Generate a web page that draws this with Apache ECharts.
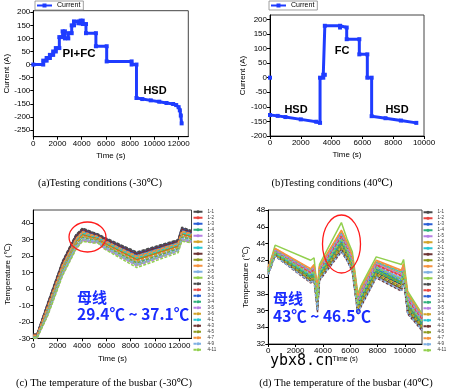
<!DOCTYPE html>
<html><head><meta charset="utf-8">
<script src="https://cdn.jsdelivr.net/npm/echarts@6/dist/echarts.min.js"></script>
<style>html,body{margin:0;padding:0;background:#fff}#c{width:449px;height:389px}</style>
</head><body><div id="c"></div>
<script>
// ---------- (a) current, -30C ----------
const timeA    = [0,820,820,1100,1100,1370,1370,1640,1640,1860,1860,2150,2150,2420,2420,2610,2610,2890,2890,3170,3170,3360,3360,3720,3720,3910,3910,4080,4080,4350,4350,5170,5170,6060,6060,8120,8120,8520,8520,9000,9700,10400,11000,11550,11800,12000,12100,12180,12250];
const currentA = [0,0,15,15,25,25,37,37,50,50,63,63,105,105,127,127,100,100,120,120,150,150,165,165,158,158,168,168,155,155,120,120,70,70,12,12,0,0,-128,-132,-137,-142,-147,-151,-155,-163,-175,-195,-225];
const xTicksA = [0,2000,4000,6000,8000,10000,12000];
const yTicksA = [-250,-200,-150,-100,-50,0,50,100,150,200];

// ---------- (b) current, 40C ----------
const timeB    = [0,0,0,500,1000,2000,3000,3250,3250,3460,3460,3560,3560,4550,4550,4980,4980,5800,5800,6320,6320,6600,6600,7500,8500,9500];
const currentB = [0,null,-128,-131,-135,-143,-151,-155,0,0,10,10,178,178,172,172,132,132,80,80,0,0,-132,-139,-147,-155];
const xTicksB = [0,2000,4000,6000,8000,10000];
const yTicksB = [-200,-150,-100,-50,0,50,100,150,200];

// ---------- sensor names ----------
const sensorNames = ['1-1','1-2','1-3','1-4','1-5','1-6','2-1','2-2','2-3','2-4','2-5','2-6','3-1','3-2','3-3','3-4','3-5','3-6','4-1','4-3','4-5','4-7','4-9','4-11'];

// ---------- (c) busbar temperature, -30C ----------
const timeC = [0,300,1200,2400,3500,4050,4900,5300,5800,8500,11900,12200,13000];
const c_1_1  = [-27.6,-27.6,-8.4,16.6,32.6,36.6,34.2,33.2,31.2,22.0,29.6,37.1,35.1];
const c_1_2  = [-28.3,-28.3,-10.4,14.3,30.3,34.6,32.6,31.9,29.4,19.7,27.6,35.0,33.3];
const c_1_3  = [-27.8,-27.8,-8.8,16.1,32.1,36.2,33.9,33.0,30.8,21.6,29.2,36.7,34.8];
const c_1_4  = [-28.6,-28.6,-11.6,13.0,29.0,33.4,31.6,31.0,28.4,18.2,26.4,33.7,32.1];
const c_1_5  = [-29.9,-29.9,-15.6,8.5,24.5,29.4,28.3,28.3,24.9,15.0,23.5,29.4,28.4];
const c_1_6  = [-28.5,-28.5,-11.2,13.4,29.4,33.8,31.9,31.3,28.7,18.7,26.8,34.1,32.5];
const c_2_1  = [-28.1,-28.1,-10.0,14.8,30.8,35.0,32.9,32.1,29.8,20.1,28.0,35.4,33.6];
const c_2_2  = [-27.9,-27.9,-9.2,15.7,31.7,35.8,33.5,32.7,30.5,21.1,28.8,36.2,34.4];
const c_2_3  = [-28.8,-28.8,-12.0,12.5,28.5,33.0,31.3,30.8,28.0,17.8,26.0,33.3,31.8];
const c_2_4  = [-28.4,-28.4,-10.8,13.9,29.9,34.2,32.2,31.6,29.1,19.2,27.2,34.5,32.9];
const c_2_5  = [-29.1,-29.1,-13.2,11.2,27.2,31.8,30.3,29.9,27.0,16.3,24.8,32.0,30.6];
const c_2_6  = [-29.6,-29.6,-14.8,9.4,25.4,30.2,29.0,28.8,25.6,14.4,23.2,30.3,29.1];
const c_3_1  = [-27.5,-27.5,-8.0,17.0,33.0,37.0,34.5,33.5,31.5,22.5,30.0,37.5,35.5];
const c_3_2  = [-28.9,-28.9,-12.4,12.1,28.1,32.6,30.9,30.5,27.7,17.3,25.6,32.8,31.4];
const c_3_3  = [-28.0,-28.0,-9.6,15.2,31.2,35.4,33.2,32.4,30.1,20.6,28.4,35.8,34.0];
const c_3_4  = [-29.3,-29.3,-13.6,10.7,26.7,31.4,30.0,29.7,26.6,15.9,24.4,31.6,30.3];
const c_3_5  = [-29.8,-29.8,-15.2,8.9,24.9,29.8,28.7,28.6,25.2,14.0,22.8,29.9,28.8];
const c_3_6  = [-29.0,-29.0,-12.8,11.6,27.6,32.2,30.6,30.2,27.3,16.8,25.2,32.4,31.0];
const c_4_1  = [-28.4,-28.4,-11.0,13.6,29.6,34.0,32.0,31.4,28.9,18.9,27.0,34.3,32.7];
const c_4_3  = [-27.9,-27.9,-9.0,15.9,31.9,36.0,33.7,32.8,30.6,21.4,29.0,36.5,34.6];
const c_4_5  = [-29.4,-29.4,-14.0,10.3,26.3,31.0,29.6,29.4,26.3,15.4,24.0,31.1,29.9];
const c_4_7  = [-28.2,-28.2,-10.2,14.5,30.5,34.8,32.7,32.0,29.6,19.9,27.8,35.2,33.5];
const c_4_9  = [-29.5,-29.5,-14.4,9.8,25.8,30.6,29.3,29.1,25.9,14.9,23.6,30.7,29.5];
const c_4_11 = [-30.0,-30.0,-16.0,8.0,24.0,29.0,28.0,28.0,24.5,13.0,22.0,29.0,28.0];
const tempC = [c_1_1,c_1_2,c_1_3,c_1_4,c_1_5,c_1_6,c_2_1,c_2_2,c_2_3,c_2_4,c_2_5,c_2_6,c_3_1,c_3_2,c_3_3,c_3_4,c_3_5,c_3_6,c_4_1,c_4_3,c_4_5,c_4_7,c_4_9,c_4_11];
const xTicksC = [0,2000,4000,6000,8000,10000,12000];
const yTicksC = [-30,-20,-10,0,10,20,30,40];

// ---------- (d) busbar temperature, 40C ----------
const timeD = [0,500,3100,3350,3600,3750,5350,5750,6150,6550,6800,7900,9750,9900,10200,11250];
const d_1_1  = [40.6,42.8,39.8,40.1,36.7,40.1,43.8,42.7,41.2,36.3,37.2,40.5,39.1,40.2,36.3,34.2];
const d_1_2  = [41.0,43.2,40.6,41.0,38.1,40.9,45.0,43.7,42.1,37.3,38.2,41.5,40.2,41.1,37.4,35.1];
const d_1_3  = [40.8,43.0,40.2,40.6,37.5,40.5,44.4,43.2,41.7,36.8,37.8,41.1,39.7,40.7,36.9,34.7];
const d_1_4  = [40.7,42.9,40.1,40.4,37.2,40.4,44.2,43.0,41.5,36.6,37.5,40.9,39.4,40.5,36.7,34.5];
const d_1_5  = [40.8,43.0,40.3,40.7,37.6,40.6,44.6,43.3,41.8,36.9,37.9,41.2,39.8,40.8,37.0,34.8];
const d_1_6  = [41.1,43.3,40.7,41.2,38.4,41.0,45.2,43.9,42.3,37.5,38.5,41.7,40.4,41.3,37.6,35.3];
const d_2_1  = [41.1,43.3,40.8,41.3,38.5,41.1,45.3,44.0,42.4,37.6,38.6,41.8,40.6,41.4,37.8,35.4];
const d_2_2  = [40.4,42.6,39.5,39.7,36.1,39.8,43.3,42.2,40.8,35.8,36.7,40.1,38.6,39.8,35.8,33.8];
const d_2_3  = [40.7,42.9,40.0,40.3,37.0,40.3,44.0,42.9,41.4,36.5,37.4,40.7,39.3,40.4,36.6,34.4];
const d_2_4  = [41.2,43.4,41.0,41.5,38.8,41.3,45.6,44.2,42.6,37.8,38.8,42.0,40.8,41.6,38.0,35.6];
const d_2_5  = [40.9,43.1,40.4,40.8,37.8,40.7,44.7,43.4,41.9,37.0,38.0,41.3,39.9,40.9,37.2,34.9];
const d_2_6  = [41.0,43.8,42.0,42.3,38.2,41.5,46.5,44.6,43.0,38.0,39.0,42.4,41.5,42.1,38.3,35.6];
const d_3_1  = [40.5,42.7,39.6,39.9,36.4,39.9,43.5,42.4,41.0,36.0,37.0,40.3,38.8,40.0,36.1,34.0];
const d_3_2  = [40.9,43.1,40.5,40.9,37.9,40.8,44.8,43.5,42.0,37.1,38.1,41.4,40.1,41.0,37.3,35.0];
const d_3_3  = [40.8,43.0,40.2,40.5,37.3,40.5,44.3,43.1,41.6,36.7,37.7,41.0,39.6,40.6,36.8,34.6];
const d_3_4  = [40.6,42.8,39.9,40.2,36.9,40.2,43.9,42.8,41.3,36.4,37.3,40.6,39.2,40.3,36.4,34.3];
const d_3_5  = [41.0,43.2,40.7,41.1,38.2,41.0,45.1,43.8,42.2,37.4,38.3,41.6,40.3,41.2,37.5,35.2];
const d_3_6  = [40.5,42.7,39.7,40.0,36.6,40.0,43.7,42.6,41.1,36.2,37.1,40.4,38.9,40.1,36.2,34.1];
const d_4_1  = [40.7,42.9,40.2,40.6,37.5,40.5,44.5,43.2,41.7,36.8,37.8,41.1,39.7,40.7,36.9,34.7];
const d_4_3  = [40.3,42.5,39.3,39.5,35.8,39.6,43.0,42.0,40.6,35.6,36.5,39.9,38.3,39.6,35.6,33.6];
const d_4_5  = [40.4,42.6,39.6,39.8,36.3,39.9,43.4,42.3,40.9,35.9,36.9,40.2,38.7,39.9,36.0,33.9];
const d_4_7  = [41.2,43.4,40.9,41.4,38.7,41.2,45.5,44.1,42.5,37.7,38.7,41.9,40.7,41.5,37.9,35.5];
const d_4_9  = [40.3,42.5,39.4,39.6,36.0,39.7,43.1,42.1,40.7,35.7,36.6,40.0,38.4,39.7,35.7,33.7];
const d_4_11 = [40.8,43.0,40.3,40.6,37.4,40.6,44.4,43.2,41.7,36.8,37.8,41.1,39.7,40.7,36.9,34.7];
const tempD = [d_1_1,d_1_2,d_1_3,d_1_4,d_1_5,d_1_6,d_2_1,d_2_2,d_2_3,d_2_4,d_2_5,d_2_6,d_3_1,d_3_2,d_3_3,d_3_4,d_3_5,d_3_6,d_4_1,d_4_3,d_4_5,d_4_7,d_4_9,d_4_11];
const xTicksD = [0,2000,4000,6000,8000,10000];
const yTicksD = [32,34,36,38,40,42,44,46,48];

// ---------- styles ----------
const SANS = 'Arial, "Liberation Sans", "DejaVu Sans", "Noto Sans CJK SC", sans-serif';
const SERIF = '"Times New Roman", "Liberation Serif", "DejaVu Serif", serif';
const CJK = '"Noto Sans CJK SC", Arial, "Liberation Sans", sans-serif';
const BLUE = '#1f3cff';
const palette = ['#4a4a4a','#e8453f','#2a5fd6','#2fb07c','#b57fe3','#d2a42a','#25c6d4','#6e3535','#8e9b1f','#f5923e','#7fb0e2','#92d04e'];

function mkAxis(o) {
  return {
    type: 'value',
    axisLine: {show: true, onZero: false, lineStyle: {color: '#000', width: 1}},
    axisTick: {show: true, length: 3, customValues: o.ticks, lineStyle: {color: '#000', width: 1}},
    axisLabel: {color: '#000', fontSize: 8, fontFamily: SANS, margin: o.labelMargin || 3, customValues: o.ticks,
                formatter: v => String(v)},
    splitLine: {show: false},
    nameLocation: 'middle',
    nameGap: o.nameGap,
    name: o.name,
    nameTextStyle: {color: '#000', fontSize: o.nameSize || 8, fontFamily: SANS},
    min: o.min, max: o.max,
    gridIndex: o.grid
  };
}

const grids = [
  {left: 33.3, top: 10.7, width: 155, height: 126},
  {left: 270, top: 15, width: 154, height: 121},
  {left: 33.3, top: 210, width: 158.2, height: 128.3},
  {left: 268.3, top: 210, width: 153.7, height: 134}
].map(g => Object.assign({show: true, borderColor: '#444', borderWidth: 1, backgroundColor: 'transparent', containLabel: false}, g));

const xAxes = [
  mkAxis({grid: 0, min: 0, max: 12800, ticks: xTicksA, name: 'Time (s)', nameGap: 15.5}),
  mkAxis({grid: 1, min: 0, max: 10000, ticks: xTicksB, name: 'Time (s)', nameGap: 15}),
  mkAxis({grid: 2, min: 0, max: 13000, ticks: xTicksC, name: 'Time (s)', nameGap: 16}),
  mkAxis({grid: 3, min: 0, max: 11250, ticks: xTicksD, name: 'Time (s)', nameGap: 12, nameSize: 7})
];
const yAxes = [
  mkAxis({grid: 0, min: -276, max: 206, ticks: yTicksA, name: 'Current (A)', nameGap: 21}),
  mkAxis({grid: 1, min: -200, max: 215, ticks: yTicksB, name: 'Current (A)', nameGap: 22}),
  mkAxis({grid: 2, min: -30, max: 48, ticks: yTicksC, name: 'Temperature (\u2103)', nameGap: 22}),
  mkAxis({grid: 3, min: 32, max: 48, ticks: yTicksD, name: 'Temperature (\u2103)', nameGap: 19})
];

const series = [];
series.push({
  type: 'line', name: 'Current', xAxisIndex: 0, yAxisIndex: 0,
  data: timeA.map((t, i) => [t, currentA[i]]),
  symbol: 'rect', symbolSize: 4, showSymbol: true, showAllSymbol: true,
  lineStyle: {width: 3, color: BLUE}, itemStyle: {color: BLUE}, animation: false
});
series.push({
  type: 'line', name: 'Current', xAxisIndex: 1, yAxisIndex: 1,
  data: timeB.map((t, i) => [t, currentB[i] === null ? '-' : currentB[i]]),
  connectNulls: false,
  symbol: 'rect', symbolSize: 4, showSymbol: true, showAllSymbol: true,
  lineStyle: {width: 3, color: BLUE}, itemStyle: {color: BLUE}, animation: false
});
function addTemp(times, sets, gi) {
  sets.forEach((vals, k) => {
    const col = palette[k % 12];
    series.push({
      type: 'line', name: sensorNames[k], xAxisIndex: gi, yAxisIndex: gi,
      data: times.map((t, i) => [t, vals[i]]),
      symbol: 'none', animation: false,
      lineStyle: {width: 1.5, color: col, type: k < 12 ? 'solid' : [3, 1.5]},
      itemStyle: {color: col}
    });
  });
}
addTemp(timeC, tempC, 2);
addTemp(timeD, tempD, 3);

const legendCommonSmall = {
  data: sensorNames, orient: 'vertical', itemWidth: 9, itemHeight: 4, itemGap: 1.5,
  padding: 0, selectedMode: false,
  textStyle: {fontSize: 4.5, lineHeight: 4, color: '#333', fontFamily: SANS}
};
const legendCur = {
  data: ['Current'], itemWidth: 15, itemHeight: 5, padding: [1, 3, 1, 1],
  borderColor: '#888', borderWidth: 0.8, selectedMode: false,
  textStyle: {fontSize: 7, color: '#000', fontFamily: SANS}
};

const texts = [
  {t: 'PI+FC', x: 79, y: 54, f: 'bold 11.5px ' + SANS, c: '#000', a: 'center'},
  {t: 'HSD', x: 155, y: 91, f: 'bold 11px ' + SANS, c: '#000', a: 'center'},
  {t: 'FC', x: 342, y: 51, f: 'bold 11px ' + SANS, c: '#000', a: 'center'},
  {t: 'HSD', x: 296, y: 110, f: 'bold 11px ' + SANS, c: '#000', a: 'center'},
  {t: 'HSD', x: 397, y: 110, f: 'bold 11px ' + SANS, c: '#000', a: 'center'},
  {t: '(a)Testing conditions (-30\u2103)', x: 100, y: 183, f: '10.5px ' + SERIF, c: '#000', a: 'center'},
  {t: '(b)Testing conditions (40\u2103)', x: 332, y: 183, f: '10.5px ' + SERIF, c: '#000', a: 'center'},
  {t: '(c) The temperature of the busbar (-30\u2103)', x: 104, y: 383, f: '10.5px ' + SERIF, c: '#000', a: 'center'},
  {t: '(d) The temperature of the busbar (40\u2103)', x: 346, y: 383, f: '10.5px ' + SERIF, c: '#000', a: 'center'},
  {t: '\u6bcd\u7ebf', x: 77, y: 297, f: 'bold 15px ' + CJK, c: '#1a2cff', a: 'left'},
  {t: '29.4\u2103 ~ 37.1\u2103', x: 77, y: 314.5, f: 'bold 15.5px ' + CJK, c: '#1a2cff', a: 'left'},
  {t: '\u6bcd\u7ebf', x: 273, y: 298, f: 'bold 15px ' + CJK, c: '#1a2cff', a: 'left'},
  {t: '43\u2103 ~ 46.5\u2103', x: 273, y: 316.5, f: 'bold 15.5px ' + CJK, c: '#1a2cff', a: 'left'},
  {t: 'ybx8.cn', x: 270, y: 361, f: '15px "DejaVu Sans Mono", "Liberation Mono", monospace', c: '#000', a: 'left'}
];
const graphic = texts.map(o => ({
  type: 'text', z: 100, silent: true,
  style: {text: o.t, x: o.x, y: o.y, font: o.f, fill: o.c, align: o.a, verticalAlign: 'middle'}
}));
graphic.push({type: 'ellipse', z: 100, silent: true, shape: {cx: 87.5, cy: 237, rx: 18.5, ry: 15}, style: {fill: 'none', stroke: '#ff1a1a', lineWidth: 1.3}});
graphic.push({type: 'ellipse', z: 100, silent: true, shape: {cx: 341.5, cy: 244, rx: 19, ry: 29}, style: {fill: 'none', stroke: '#ff1a1a', lineWidth: 1.3}});

const chart = echarts.init(document.getElementById('c'), null, {renderer: 'canvas', width: 449, height: 389});
chart.setOption({
  backgroundColor: '#fff',
  animation: false,
  grid: grids,
  xAxis: xAxes,
  yAxis: yAxes,
  legend: [
    Object.assign({}, legendCur, {left: 35, top: 1}),
    Object.assign({}, legendCur, {left: 269, top: 1}),
    Object.assign({}, legendCommonSmall, {left: 192.5, top: 209.5}),
    Object.assign({}, legendCommonSmall, {left: 422.5, top: 210})
  ],
  series: series,
  graphic: graphic
});
</script></body></html>
